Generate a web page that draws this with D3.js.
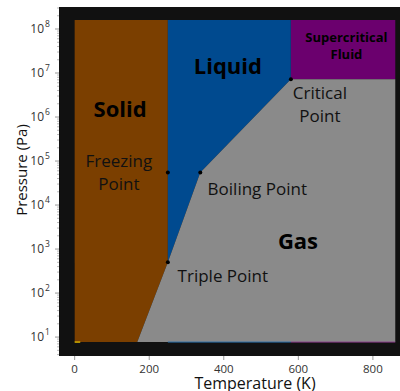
<!DOCTYPE html>
<html>
<head>
<meta charset="utf-8">
<script src="https://cdn.jsdelivr.net/npm/d3@7"></script>
<style>
  body { margin: 0; background: #fff; }
  svg { display: block; font-family: "Open Sans", sans-serif; }
</style>
</head>
<body>
<svg width="400" height="391"></svg>
<script>
// phase diagram data (temperature in K, pressure in Pa)
var pointNames = ['Triple Point', 'Freezing Point', 'Boiling Point', 'Critical Point'];
var pointT = [250, 250, 337, 580];
var pointP = [500, 5.5e4, 5.5e4, 7.2e6];

var tMin = 0, tMax = 860, pMin = 7.7, pMax = 1.6e8;
var solidBaseT = 168;   // where the solid/gas line meets the bottom

var xTicks = [0, 200, 400, 600, 800];
var yTicks = [1, 2, 3, 4, 5, 6, 7, 8];   // exponents of 10

var regionNames = ['Solid', 'Liquid', 'Gas'];
var regionT = [122, 411, 599];
var regionLogP = [6.2, 7.18, 3.2];

var canvas = d3.select('svg');

var x = d3.scaleLinear().domain([-42, 870]).range([59, 399]);
var y = d3.scaleLog().domain([Math.pow(10, 0.57), Math.pow(10, 8.5)]).range([356, 7]);

// dark axes background
canvas.append('rect').attr('x', 59).attr('y', 7).attr('width', 341).attr('height', 349).attr('fill', '#111');

var tri = [pointT[0], pointP[0]], boil = [pointT[2], pointP[2]], crit = [pointT[3], pointP[3]];

var regions = [
  {fill: '#7b3f00', pts: [[tMin, pMin], [tMin, pMax], [tri[0], pMax], tri, [solidBaseT, pMin]]},
  {fill: '#004a8f', pts: [[tri[0], pMax], [crit[0], pMax], crit, boil, tri]},
  {fill: '#6b006e', pts: [[crit[0], pMax], [tMax, pMax], [tMax, crit[1]], crit]},
  {fill: '#8a8a8a', pts: [[solidBaseT, pMin], tri, boil, crit, [tMax, crit[1]], [tMax, pMin]]}
];

var line = d3.line().x(function(d){ return x(d[0]); }).y(function(d){ return y(d[1]); });

regions.forEach(function(r){
  canvas.append('path').attr('d', line(r.pts) + 'Z').attr('fill', r.fill);
});

// thin edge strokes along the bottom
canvas.append('path').attr('d', line([[tMin, pMin], [15, pMin]])).attr('stroke', '#d4b000').attr('stroke-width', 1.5);
canvas.append('path').attr('d', line([[tri[0], pMin], [crit[0], pMin]])).attr('stroke', '#2a6ea8').attr('stroke-width', 1);
canvas.append('path').attr('d', line([[crit[0], pMin], [tMax, pMin]])).attr('stroke', '#8a3c8a').attr('stroke-width', 1);

// points
pointNames.forEach(function(n, i){
  canvas.append('circle').attr('cx', x(pointT[i])).attr('cy', y(pointP[i])).attr('r', 2).attr('fill', '#000');
});

// point labels
var labelOffsets = [[[55, 13]], [[-49, -12], [-49, 11]], [[57, 16]], [[29, 13], [29, 36]]];
var labelLines = [['Triple Point'], ['Freezing', 'Point'], ['Boiling Point'], ['Critical', 'Point']];
labelLines.forEach(function(lines, i){
  lines.forEach(function(t, j){
    canvas.append('text')
      .attr('x', x(pointT[i]) + labelOffsets[i][j][0])
      .attr('y', y(pointP[i]) + labelOffsets[i][j][1])
      .attr('text-anchor', 'middle').attr('dominant-baseline', 'central')
      .attr('font-size', 17).attr('fill', '#111').text(t);
  });
});

// region labels
regionNames.forEach(function(n, i){
  canvas.append('text')
    .attr('x', x(regionT[i])).attr('y', y(Math.pow(10, regionLogP[i])))
    .attr('text-anchor', 'middle').attr('dominant-baseline', 'central')
    .attr('font-size', 22).attr('font-weight', 'bold').attr('fill', '#000').text(n);
});
['Supercritical', 'Fluid'].forEach(function(t, j){
  canvas.append('text')
    .attr('x', x(729)).attr('y', y(Math.pow(10, 7.61)) + (j === 0 ? -9 : 8))
    .attr('text-anchor', 'middle').attr('dominant-baseline', 'central')
    .attr('font-size', 13).attr('font-weight', 'bold').attr('fill', '#000').text(t);
});

// x axis
xTicks.forEach(function(t){
  canvas.append('line').attr('x1', x(t)).attr('x2', x(t)).attr('y1', 356).attr('y2', 360).attr('stroke', '#999');
  canvas.append('text').attr('x', x(t)).attr('y', 368).attr('text-anchor', 'middle')
    .attr('dominant-baseline', 'central').attr('font-size', 11.5).attr('fill', '#333').text(t);
});

// y axis with log minor ticks
yTicks.forEach(function(k){
  canvas.append('line').attr('x1', 55).attr('x2', 59).attr('y1', y(Math.pow(10, k))).attr('y2', y(Math.pow(10, k))).attr('stroke', '#999');
  canvas.append('text').attr('x', 44).attr('y', y(Math.pow(10, k)) + 4)
    .attr('text-anchor', 'end').attr('font-size', 12).attr('fill', '#333').text('10');
  canvas.append('text').attr('x', 45).attr('y', y(Math.pow(10, k)) - 2)
    .attr('font-size', 8.5).attr('fill', '#333').text(k);
});
for (var k = 0; k <= 8; k++) {
  for (var m = 2; m <= 9; m++) {
    var v = m * Math.pow(10, k);
    if (y(v) < 7 || y(v) > 356) continue;
    canvas.append('line').attr('x1', 57).attr('x2', 59).attr('y1', y(v)).attr('y2', y(v)).attr('stroke', '#bbb');
  }
}

// axis titles
canvas.append('text').attr('x', 255).attr('y', 383).attr('text-anchor', 'middle')
  .attr('dominant-baseline', 'central').attr('font-size', 16).attr('fill', '#111').text('Temperature (K)');
canvas.append('text').attr('transform', 'translate(21,170) rotate(-90)').attr('text-anchor', 'middle')
  .attr('dominant-baseline', 'central').attr('font-size', 15).attr('fill', '#111').text('Pressure (Pa)');
</script>
</body>
</html>
